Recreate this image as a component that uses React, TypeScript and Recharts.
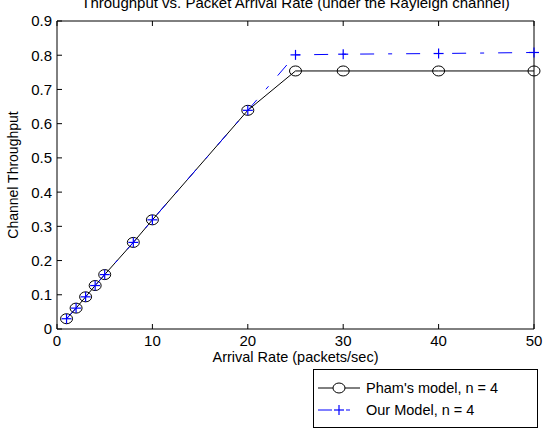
import { LineChart, Line, XAxis, YAxis, Label } from 'recharts';

const arrivalRate = [1, 2, 3, 4, 5, 8, 10, 20, 25, 30, 40, 50];
const phamThroughput = [0.03, 0.061, 0.094, 0.127, 0.159, 0.253, 0.319, 0.639, 0.754, 0.754, 0.754, 0.754];
const ourThroughput = [0.03, 0.061, 0.094, 0.127, 0.159, 0.253, 0.319, 0.639, 0.801, 0.803, 0.805, 0.808];

const xTicks = [0, 10, 20, 30, 40, 50];
const yTicks = [0, 0.1, 0.2, 0.3, 0.4, 0.5, 0.6, 0.7, 0.8, 0.9];

const data = arrivalRate.map((rate, i) => ({
  rate,
  pham: phamThroughput[i],
  ours: ourThroughput[i],
}));

const FONT = '"Liberation Sans", Arial, sans-serif';
const BLUE = '#0000ff';
const TICK_LEN = 5;
const DASH = '14 14 4 14';

// matlab style: ticks point into the plot box
const BottomTick = ({ x, y, payload }: any) => (
  <g>
    <line x1={x} y1={y} x2={x} y2={y - TICK_LEN} stroke="#000" />
    <text x={x} y={y + 17} textAnchor="middle" fontSize={15} fontFamily={FONT} fill="#000">
      {payload.value}
    </text>
  </g>
);

const TopTick = ({ x, y }: any) => <line x1={x} y1={y} x2={x} y2={y + TICK_LEN} stroke="#000" />;

const LeftTick = ({ x, y, payload }: any) => (
  <g>
    <line x1={x} y1={y} x2={x + TICK_LEN} y2={y} stroke="#000" />
    <text x={x - 5} y={y} dy="0.36em" textAnchor="end" fontSize={15} fontFamily={FONT} fill="#000">
      {payload.value === 0 ? '0' : payload.value.toFixed(1)}
    </text>
  </g>
);

const RightTick = ({ x, y }: any) => <line x1={x} y1={y} x2={x - TICK_LEN} y2={y} stroke="#000" />;

const CircleDot = ({ cx, cy, index }: any) => (
  <ellipse key={`c-${index}`} cx={cx} cy={cy} rx={6} ry={5} fill="none" stroke="#000" strokeWidth={1} />
);

const PlusDot = ({ cx, cy, index }: any) => (
  <g key={`p-${index}`}>
    <line x1={cx - 5} y1={cy} x2={cx + 5} y2={cy} stroke={BLUE} strokeWidth={1.2} />
    <line x1={cx} y1={cy - 5} x2={cx} y2={cy + 5} stroke={BLUE} strokeWidth={1.2} />
  </g>
);

function ChartLegend() {
  return (
    <div
      style={{
        position: 'absolute',
        left: 313,
        top: 369,
        width: 225,
        height: 59,
        border: '1px solid #000',
        background: '#fff',
        boxSizing: 'border-box',
      }}
    >
      <svg width={223} height={57} style={{ display: 'block' }}>
        <line x1={4} y1={18} x2={46} y2={18} stroke="#000" />
        <ellipse cx={25} cy={18} rx={6} ry={5} fill="#fff" stroke="#000" />
        <text x={52} y={18} dy="0.36em" fontSize={14.5} fontFamily={FONT} fill="#000">
          Pham's model, n = 4
        </text>
        <line x1={4} y1={40} x2={46} y2={40} stroke={BLUE} strokeDasharray={DASH} />
        <line x1={20} y1={40} x2={30} y2={40} stroke={BLUE} strokeWidth={1.2} />
        <line x1={25} y1={35} x2={25} y2={45} stroke={BLUE} strokeWidth={1.2} />
        <text x={52} y={40} dy="0.36em" fontSize={14.5} fontFamily={FONT} fill="#000">
          Our Model, n = 4
        </text>
      </svg>
    </div>
  );
}

export default function App() {
  return (
    <div style={{ position: 'absolute', left: 0, top: 0, width: 546, height: 432, background: '#fff' }}>
      <LineChart width={546} height={432} data={data} margin={{ top: 20, right: 11, left: 0, bottom: 73 }}>
        <XAxis
          xAxisId="bottom"
          dataKey="rate"
          type="number"
          domain={[0, 50]}
          ticks={xTicks}
          interval={0}
          height={30}
          tickSize={0}
          tickMargin={0}
          tickLine={false}
          axisLine={{ stroke: '#000' }}
          tick={<BottomTick />}
        >
          <Label
            content={({ viewBox }: any) => (
              <text
                x={viewBox.x + viewBox.width / 2}
                y={viewBox.y + 33}
                textAnchor="middle"
                fontSize={14.5}
                fontFamily={FONT}
                fill="#000"
              >
                Arrival Rate (packets/sec)
              </text>
            )}
          />
        </XAxis>
        <XAxis
          xAxisId="top"
          orientation="top"
          dataKey="rate"
          type="number"
          domain={[0, 50]}
          ticks={xTicks}
          interval={0}
          height={1}
          tickSize={0}
          tickMargin={0}
          tickLine={false}
          axisLine={{ stroke: '#000' }}
          tick={<TopTick />}
        >
          <Label
            content={({ viewBox }: any) => (
              <text
                x={viewBox.x + viewBox.width / 2}
                y={8}
                textAnchor="middle"
                fontSize={15}
                fontFamily={FONT}
                fill="#000"
              >
                Throughput vs. Packet Arrival Rate (under the Rayleigh channel)
              </text>
            )}
          />
        </XAxis>
        <YAxis
          yAxisId="left"
          type="number"
          domain={[0, 0.9]}
          ticks={yTicks}
          interval={0}
          width={57}
          tickSize={0}
          tickMargin={0}
          tickLine={false}
          axisLine={{ stroke: '#000' }}
          tick={<LeftTick />}
        >
          <Label
            content={({ viewBox }: any) => {
              const cy = viewBox.y + viewBox.height / 2;
              return (
                <text
                  x={13}
                  y={cy}
                  transform={`rotate(-90 13 ${cy})`}
                  textAnchor="middle"
                  dy="0.36em"
                  fontSize={14}
                  fontFamily={FONT}
                  fill="#000"
                >
                  Channel Throughput
                </text>
              );
            }}
          />
        </YAxis>
        <YAxis
          yAxisId="right"
          orientation="right"
          type="number"
          domain={[0, 0.9]}
          ticks={yTicks}
          interval={0}
          width={1}
          tickSize={0}
          tickMargin={0}
          tickLine={false}
          axisLine={{ stroke: '#000' }}
          tick={<RightTick />}
        />
        <Line
          xAxisId="bottom"
          yAxisId="left"
          type="linear"
          dataKey="pham"
          name="Pham's model, n = 4"
          stroke="#000"
          strokeWidth={1}
          dot={CircleDot}
          activeDot={false}
          isAnimationActive={false}
        />
        <Line
          xAxisId="bottom"
          yAxisId="left"
          type="linear"
          dataKey="ours"
          name="Our Model, n = 4"
          stroke={BLUE}
          strokeWidth={1}
          strokeDasharray={DASH}
          dot={PlusDot}
          activeDot={false}
          isAnimationActive={false}
        />
      </LineChart>
      <ChartLegend />
    </div>
  );
}
